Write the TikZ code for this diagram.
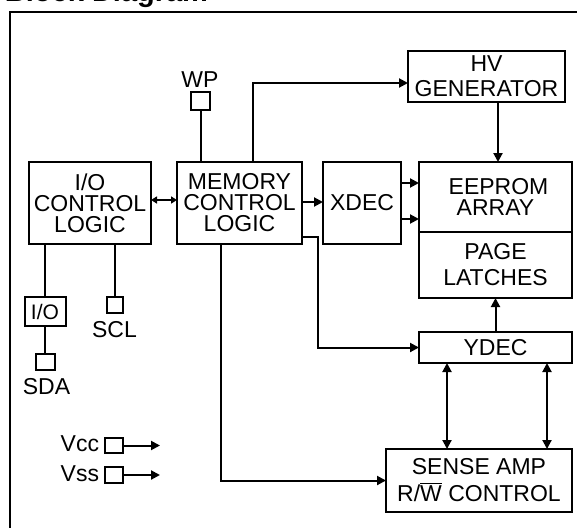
\documentclass[tikz,border=0pt]{standalone}
\usepackage{fontspec}
\setmainfont{Liberation Sans}
\usetikzlibrary{arrows.meta}
\newcommand{\myovl}[1]{\setbox0\hbox{#1}\rlap{\rule[17.5pt]{\wd0}{1.8pt}}#1}
\begin{document}
\begin{tikzpicture}[x=1pt,y=-1pt,
  every node/.style={inner sep=0pt,outer sep=0pt},
  blk/.style={draw,line width=2pt,align=center,font=\fontsize{23}{21}\selectfont},
  pin/.style={draw,line width=2pt},
  lbl/.style={font=\fontsize{23}{23}\selectfont},
  ln/.style={line width=2pt},
  arr/.style={line width=2pt,-{Triangle[length=9pt,width=9pt]}},
  darr/.style={line width=2pt,{Triangle[length=9pt,width=9pt]}-{Triangle[length=9pt,width=9pt]}},
  sarr/.style={line width=2pt,{Triangle[length=6pt,width=7pt]}-{Triangle[length=6pt,width=7pt]}}]
\useasboundingbox (0,0) rectangle (577,527);
\fill[white] (0,0) rectangle (577,527);
% title and frame
\node[anchor=base west,font=\fontsize{29}{29}\selectfont\bfseries] (title) at (5,2) {Block Diagram};
\draw[ln] (585,12) -- (10,12) -- (10,535);
% blocks
\node[blk,minimum width=122pt,minimum height=82pt] (io) at (90,203) {I/O\\CONTROL\\LOGIC};
\node[blk,minimum width=125pt,minimum height=82pt] (mcl) at (239.5,203) {MEMORY\\CONTROL\\LOGIC};
\node[blk,minimum width=78pt,minimum height=82pt] (xdec) at (362,203) {XDEC};
\node[blk,minimum width=153pt,minimum height=70pt,font=\fontsize{23}{21}\selectfont] (eeprom) at (495.5,197) {\hspace*{6pt}EEPROM\\ARRAY};
\node[blk,minimum width=153pt,minimum height=66pt,font=\fontsize{23}{26}\selectfont] (page) at (495.5,265) {PAGE\\LATCHES};
\node[blk,minimum width=157pt,minimum height=51pt,font=\fontsize{23}{25}\selectfont] (hv) at (486.5,76.5) {HV\\GENERATOR};
\node[blk,minimum width=153pt,minimum height=31pt] (ydec) at (495.5,347.5) {YDEC};
\node[blk,minimum width=186pt,minimum height=63pt,font=\fontsize{23}{27}\selectfont] (sense) at (479,480.5) {SENSE AMP\\R/\myovl{W} CONTROL};
% pins
\node[pin,minimum width=19pt,minimum height=18pt] (wp) at (200.5,101) {};
\node[lbl,anchor=center] (wpl) at (200,79.5) {WP};
\node[blk,minimum width=41pt,minimum height=29pt,font=\fontsize{21}{21}\selectfont] (iobox) at (45,311.5) {I/O};
\node[pin,minimum width=19pt,minimum height=16pt] (sda) at (45.5,362) {};
\node[lbl] (sdal) at (46.5,387) {SDA};
\node[pin,minimum width=16pt,minimum height=16pt] (scl) at (115,305) {};
\node[lbl] (scll) at (114.5,330) {SCL};
\node[pin,minimum width=18pt,minimum height=15pt] (vcc) at (114,445.5) {};
\node[lbl,anchor=east] (vccl) at (99,444) {Vcc};
\node[pin,minimum width=18pt,minimum height=16pt] (vss) at (114,475) {};
\node[lbl,anchor=east] (vssl) at (99,474) {Vss};
\coordinate (vcce) at (160,445.5);
\coordinate (vsse) at (160,475);
% connectors
\draw[ln] (wp.south) -- (wp.south |- mcl.north);
\draw[arr] ([xshift=13.5pt]mcl.north) |- ([yshift=-6.5pt]hv.west);
\draw[arr] ([xshift=11.5pt]hv.south) -- ([xshift=11.5pt]hv.south |- eeprom.north);
\draw[arr] ([yshift=1pt]mcl.east) -- ([yshift=1pt]xdec.west);
\draw[arr] ([yshift=20pt]xdec.east) -- ([yshift=20pt]xdec.east -| eeprom.west);
\draw[arr] ([yshift=-16pt]xdec.east) -- ([yshift=-16pt]xdec.east -| eeprom.west);
\draw[arr] ([yshift=-34pt]mcl.east) -- ++(16,0) |- (ydec.west);
\draw[arr] (ydec.north) -- (ydec.north |- page.south);
\draw[darr] ([xshift=-48.5pt]ydec.south) -- ([xshift=-48.5pt]ydec.south |- sense.north);
\draw[darr] ([xshift=51.5pt]ydec.south) -- ([xshift=51.5pt]ydec.south |- sense.north);
\draw[arr] ([xshift=-18.5pt]mcl.south) |- (sense.west);
\draw[sarr] ([yshift=3pt]io.east) -- ([yshift=3pt]mcl.west);
\draw[ln] ([xshift=-45pt]io.south) -- (iobox.north);
\draw[ln] (iobox.south) -- (iobox.south |- sda.north);
\draw[ln] ([xshift=25pt]io.south) -- (scl.north);
\draw[arr] (vcc.east) -- (vcce);
\draw[arr] (vss.east) -- (vsse);
\end{tikzpicture}
\end{document}
